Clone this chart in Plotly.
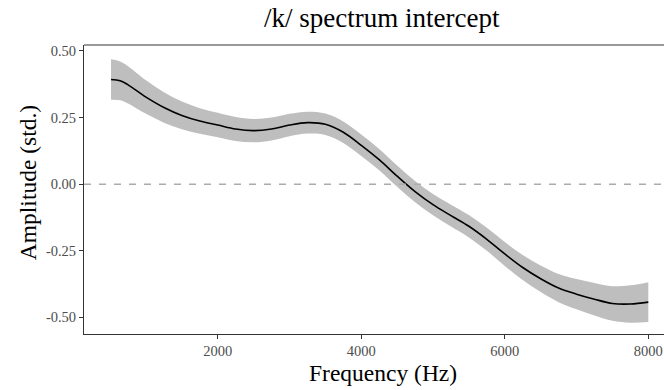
import plotly.graph_objects as go

freq = [513, 640, 750, 1000, 1250, 1500, 1750, 2000, 2250, 2500, 2750, 3000, 3250, 3500,
        3750, 4000, 4250, 4500, 4750, 5000, 5250, 5500, 5750, 6000, 6250, 6500, 6750,
        7000, 7250, 7500, 7750, 8000]
amp = [0.393, 0.388, 0.373, 0.327, 0.288, 0.258, 0.237, 0.222, 0.207, 0.201, 0.207, 0.222,
       0.231, 0.225, 0.195, 0.146, 0.092, 0.030, -0.028, -0.077, -0.118, -0.158,
       -0.207, -0.262, -0.313, -0.355, -0.390, -0.413, -0.432, -0.448, -0.450, -0.443]
half_width = [0.076, 0.073, 0.07, 0.063, 0.057, 0.052, 0.048, 0.046, 0.045, 0.044, 0.043,
              0.042, 0.041, 0.040, 0.040, 0.040, 0.040, 0.040, 0.040, 0.040, 0.041,
              0.042, 0.043, 0.045, 0.047, 0.05, 0.053, 0.057, 0.061, 0.065, 0.07, 0.075]
xticks = [2000, 4000, 6000, 8000]
yticks = [0.5, 0.25, 0.0, -0.25, -0.5]
ytick_labels = ["0.50", "0.25", "0.00", "-0.25", "-0.50"]

upper = [a + h for a, h in zip(amp, half_width)]
lower = [a - h for a, h in zip(amp, half_width)]

font = "Liberation Serif"
fig = go.Figure()
fig.add_trace(go.Scatter(x=freq, y=lower, mode="lines", line=dict(width=0, shape="spline"),
                         hoverinfo="skip", showlegend=False))
fig.add_trace(go.Scatter(x=freq, y=upper, mode="lines", fill="tonexty", fillcolor="#bebebe",
                         line=dict(width=0, shape="spline"), hoverinfo="skip", showlegend=False))
fig.add_trace(go.Scatter(x=freq, y=amp, mode="lines", line=dict(color="black", width=1.6,
                         shape="spline"), showlegend=False))

fig.add_hline(y=0, line=dict(color="#ababab", width=1.5, dash="7px,8px"))
fig.add_shape(type="line", xref="paper", yref="paper", x0=0, x1=1, y0=1, y1=1,
              line=dict(color="#999999", width=2))

fig.update_layout(
    width=664, height=390,
    margin=dict(l=84, r=0, t=45, b=56, pad=0),
    plot_bgcolor="white", paper_bgcolor="white",
    font=dict(family=font, color="#1a1a1a"),
    xaxis=dict(range=[136, 8219], tickvals=xticks, ticks="outside", ticklen=4,
               tickcolor="#333333", showline=True, linecolor="#333333", linewidth=1,
               showgrid=False, zeroline=False, automargin=False,
               tickfont=dict(size=14.5, family=font, color="#4d4d4d")),
    yaxis=dict(range=[-0.5626, 0.5225], tickvals=yticks, ticktext=ytick_labels,
               ticks="outside", ticklen=4, tickcolor="#333333", showline=True,
               linecolor="#333333", linewidth=1, showgrid=False, zeroline=False,
               automargin=False,
               tickfont=dict(size=14.5, family=font, color="#4d4d4d")),
    annotations=[
        dict(text="/k/ spectrum intercept", xref="paper", yref="paper",
             x=(382 - 84) / 580, y=(334 - 18) / 289.3, xanchor="center", yanchor="middle",
             showarrow=False, font=dict(size=27, family=font, color="black")),
        dict(text="Frequency (Hz)", xref="paper", yref="paper",
             x=(383 - 84) / 580, y=(334 - 373) / 289.3, xanchor="center", yanchor="middle",
             showarrow=False, font=dict(size=23.5, family=font, color="black")),
        dict(text="Amplitude (std.)", xref="paper", yref="paper", textangle=-90,
             x=(28 - 84) / 580, y=(334 - 183) / 289.3, xanchor="center", yanchor="middle",
             showarrow=False, font=dict(size=23.5, family=font, color="black")),
    ],
)

fig.write_html("out.html", config={"displayModeBar": False},
               post_script="document.body.style.margin='0px';document.body.style.overflow='hidden';")
